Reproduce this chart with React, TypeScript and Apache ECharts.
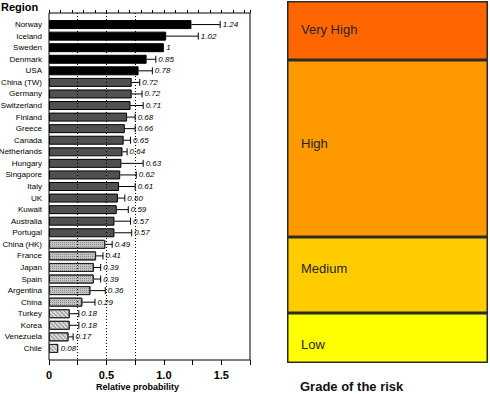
import React, { useEffect, useRef } from "react";
import * as echarts from "echarts";

const regions = [
  "Norway", "Iceland", "Sweden", "Denmark", "USA", "China (TW)", "Germany", "Switzerland",
  "Finland", "Greece", "Canada", "Netherlands", "Hungary", "Singapore", "Italy", "UK",
  "Kuwait", "Australia", "Portugal", "China (HK)", "France", "Japan", "Spain", "Argentina",
  "China", "Turkey", "Korea", "Venezuela", "Chile",
];
const probability = [
  1.24, 1.02, 1, 0.85, 0.78, 0.72, 0.72, 0.71, 0.68, 0.66, 0.65, 0.64, 0.63, 0.62, 0.61,
  0.6, 0.59, 0.57, 0.57, 0.49, 0.41, 0.39, 0.39, 0.36, 0.29, 0.18, 0.18, 0.17, 0.08,
];
const upperBound = [
  1.49, 1.3, 1.0, 0.93, 0.9, 0.79, 0.81, 0.82, 0.75, 0.75, 0.71, 0.68, 0.82, 0.76, 0.75,
  0.66, 0.69, 0.71, 0.72, 0.55, 0.47, 0.45, 0.45, 0.49, 0.4, 0.26, 0.26, 0.21, 0.08,
];
const refLines = [0.25, 0.5, 0.75];
const xTickLabels = ["0", "0.5", "1.0", "1.5"];

const riskGrades = ["Low", "Medium", "High", "Very High"];
const riskSpans = [50, 76, 177, 59];
const riskColors = ["#FFFF00", "#FFCC00", "#FF9900", "#FF6600"];

const SANS = '"Liberation Sans", Arial, sans-serif';

function fmt(v: number) {
  return Number.isInteger(v) ? String(v) : v.toFixed(2);
}

function tierStyle(v: number): any {
  if (v >= refLines[2]) return { color: "#000000", borderColor: "#000", borderWidth: 1 };
  if (v >= refLines[1]) return { color: "#505050", borderColor: "#000", borderWidth: 1 };
  if (v >= refLines[0])
    return {
      color: "#c4c4c4",
      borderColor: "#222",
      borderWidth: 1,
      decal: { symbol: "rect", symbolSize: 1, dashArrayX: [1, 1], dashArrayY: [1, 1], color: "#8a8a8a" },
    };
  return {
    color: "#dcdcdc",
    borderColor: "#222",
    borderWidth: 1,
    decal: { symbol: "rect", symbolSize: 1, dashArrayX: [1, 0], dashArrayY: [1, 2], rotation: Math.PI / 4, color: "#8f8f8f" },
  };
}

export default function App() {
  const ref = useRef<HTMLDivElement>(null);
  useEffect(() => {
    document.body.style.margin = "0";
    const chart = echarts.init(ref.current!, null, { renderer: "svg" });
    const cats = ["", ...regions, ""];
    const barData: any[] = [null, ...probability.map((v) => ({ value: v, itemStyle: tierStyle(v) })), null];
    const errData = probability.map((v, i) => [v, upperBound[i], i + 1]);

    const option: any = {
      animation: false,
      grid: [
        {
          left: 49, top: 13, width: 201, height: 347, show: true, borderColor: "#000", borderWidth: 1,
          backgroundColor: "transparent", containLabel: false, outerBoundsMode: "none",
        },
        { left: 287, top: 1, width: 201, height: 362, containLabel: false, outerBoundsMode: "none" },
      ],
      xAxis: [
        {
          type: "value", gridIndex: 0, position: "bottom", min: 0, max: 1.75, interval: 0.25,
          axisLine: { show: false },
          axisTick: { show: true, length: 5, lineStyle: { color: "#000" } },
          splitLine: { show: false },
          axisLabel: {
            margin: 9, color: "#000", fontWeight: "bold", fontSize: 11, fontFamily: SANS,
            formatter: (v: number) => {
              const k = Math.round(v / 0.5);
              return Math.abs(v - k * 0.5) < 1e-6 ? xTickLabels[k] ?? "" : "";
            },
          },
        },
        {
          type: "value", gridIndex: 0, position: "top", min: 0, max: 1.75, interval: 0.1,
          axisLine: { show: false },
          axisTick: { show: true, length: 3, lineStyle: { color: "#000" } },
          splitLine: { show: false },
          axisLabel: { show: false },
        },
        { type: "category", gridIndex: 1, data: [""], show: false },
      ],
      yAxis: [
        {
          type: "category", gridIndex: 0, data: cats, inverse: true, boundaryGap: false,
          axisLine: { show: false }, axisTick: { show: false },
          axisLabel: { color: "#000", fontSize: 8, fontFamily: SANS, margin: 7, interval: 0 },
        },
        { type: "value", gridIndex: 1, min: 0, max: riskSpans.reduce((a, b) => a + b, 0), show: false },
      ],
      series: [
        {
          type: "bar", xAxisIndex: 0, yAxisIndex: 0, data: barData, barWidth: 9,
          markLine: {
            silent: true, symbol: "none", label: { show: false },
            lineStyle: { type: [1, 2], color: "#000", width: 1 },
            data: refLines.map((x) => ({ xAxis: x })),
          },
        },
        {
          type: "custom", xAxisIndex: 0, yAxisIndex: 0, data: errData,
          encode: { x: [0, 1], y: 2 },
          renderItem: (params: any, api: any) => {
            const v = api.value(0), u = api.value(1), yi = api.value(2);
            const p0 = api.coord([v, yi]);
            const p1 = api.coord([u, yi]);
            const children: any[] = [];
            if (u > v) {
              children.push({ type: "line", shape: { x1: p0[0], y1: p0[1], x2: p1[0], y2: p1[1] }, style: { stroke: "#000", lineWidth: 1 } });
              children.push({ type: "line", shape: { x1: p1[0], y1: p1[1] - 3.5, x2: p1[0], y2: p1[1] + 3.5 }, style: { stroke: "#000", lineWidth: 1 } });
            }
            children.push({
              type: "text",
              style: {
                text: fmt(probability[params.dataIndex]), x: p1[0] + 2.5, y: p1[1],
                verticalAlign: "middle", align: "left", fill: "#000",
                fontStyle: "italic", fontSize: 8, fontFamily: SANS,
              },
            });
            return { type: "group", children };
          },
        },
        ...riskGrades.map((g, i) => ({
          type: "bar", name: g, stack: "risk", xAxisIndex: 2, yAxisIndex: 1, barWidth: "100%",
          data: [riskSpans[i]],
          itemStyle: { color: riskColors[i], borderColor: "#2b2b2b", borderWidth: 1.5 },
          label: {
            show: true, position: "insideLeft", distance: 14, formatter: "{a}",
            color: "#262626", fontSize: 13, fontFamily: SANS,
            offset: [0, [6, -7, -5, -1][i]],
          },
        })),
      ],
      graphic: [
        { type: "text", left: 1, top: 1, style: { text: "Region", fontWeight: "bold", fontSize: 11, fontFamily: SANS, fill: "#000" } },
        { type: "text", left: 96, top: 382, style: { text: "Relative probability", fontWeight: "bold", fontSize: 9, fontFamily: SANS, fill: "#000" } },
        { type: "text", left: 300, top: 380, style: { text: "Grade of the risk", fontWeight: "bold", fontSize: 13, fontFamily: SANS, fill: "#111" } },
      ],
    };
    chart.setOption(option);
    return () => chart.dispose();
  }, []);
  return <div ref={ref} style={{ width: 490, height: 394 }} />;
}
